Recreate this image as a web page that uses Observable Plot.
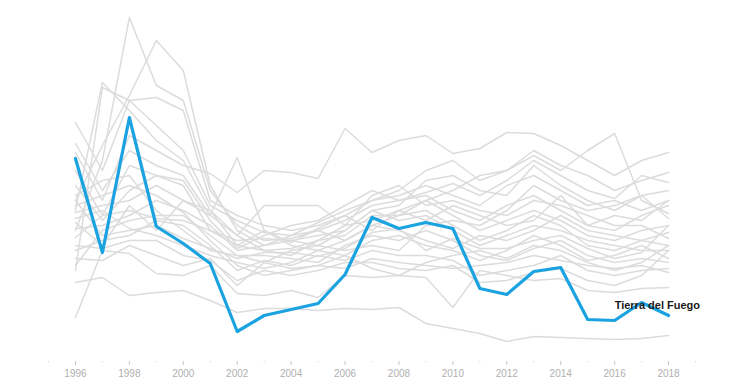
<!DOCTYPE html>
<html>
<head>
<meta charset="utf-8">
<script src="https://cdn.jsdelivr.net/npm/d3@7"></script>
<script src="https://cdn.jsdelivr.net/npm/@observablehq/plot@0.6"></script>
<style>
  html, body { margin: 0; padding: 0; background: #fff; }
  #chart { width: 730px; height: 392px; }
</style>
</head>
<body>
<div id="chart"></div>
<script>
const years = [1996,1997,1998,1999,2000,2001,2002,2003,2004,2005,2006,2007,2008,2009,2010,2011,2012,2013,2014,2015,2016,2017,2018];
const evenYears = [1996,1998,2000,2002,2004,2006,2008,2010,2012,2014,2016,2018];
const oddYears = [1995,1997,1999,2001,2003,2005,2007,2009,2011,2013,2015,2017,2019];

const highlightName = "Tierra del Fuego";
const tierraDelFuego = [20.2,10.8,24.3,13.4,11.7,9.7,2.9,4.5,5.1,5.7,8.6,14.3,13.2,13.8,13.2,7.2,6.6,8.9,9.3,4.1,4.0,5.8,4.5];

const provinceNames = ["Buenos Aires","CABA","Catamarca","Chaco","Chubut","Córdoba","Corrientes","Entre Ríos","Formosa","Jujuy","La Pampa","La Rioja","Mendoza","Misiones","Neuquén","Río Negro","Salta","San Juan","San Luis","Santa Cruz","Santa Fe","Santiago del Estero","Tucumán"];
const provinceValues = [
  [13.0,20.0,34.3,27.5,26.0,17.0,13.5,12.0,12.2,13.0,14.0,15.5,16.0,16.5,15.0,14.0,15.5,16.5,15.0,13.5,13.0,14.5,15.5],
  [16.0,21.5,26.5,32.0,29.0,17.5,13.0,11.5,12.0,12.5,13.0,15.0,15.5,18.0,18.5,17.0,16.5,19.5,17.5,16.0,15.0,16.5,17.0],
  [15.0,27.8,25.0,22.0,20.0,15.0,12.5,11.0,11.2,12.0,12.5,14.5,14.5,16.0,14.5,13.0,14.0,15.0,14.0,12.5,12.0,13.0,13.5],
  [9.0,27.3,26.0,26.3,25.0,16.0,14.5,13.5,13.0,13.5,14.5,16.0,16.5,17.5,16.5,15.5,17.5,18.5,17.0,15.5,16.0,15.0,16.0],
  [23.8,19.0,26.0,23.5,21.0,15.5,14.0,12.8,12.5,13.8,15.0,16.0,17.0,19.0,20.0,18.0,19.0,21.0,19.5,18.5,17.0,18.0,18.8],
  [21.7,17.0,21.0,19.5,18.5,14.5,20.3,13.0,11.5,11.0,12.0,13.5,14.5,15.0,13.5,12.0,13.0,14.5,13.5,11.5,11.0,12.0,12.8],
  [20.8,16.0,22.5,21.0,19.5,18.7,16.8,19.0,18.8,18.2,23.2,20.8,22.0,22.5,20.7,21.2,22.8,22.7,21.5,20.0,18.5,20.0,20.8],
  [19.0,14.5,19.5,18.5,17.5,13.0,11.5,11.0,10.5,12.0,13.5,14.0,15.0,16.0,17.0,18.5,19.0,20.5,19.0,21.0,22.7,16.0,14.7],
  [7.8,8.3,6.5,6.8,7.0,6.0,4.8,5.2,5.2,5.0,5.2,5.1,5.3,3.7,3.2,2.7,1.9,2.4,2.3,2.2,2.1,2.2,2.5],
  [4.3,11.0,10.7,8.7,8.5,9.5,6.7,6.5,7.0,6.3,8.5,8.3,8.5,8.3,5.3,9.0,8.5,8.0,8.2,7.0,6.8,7.2,7.3],
  [11.0,12.0,12.5,14.0,13.5,11.5,9.0,10.0,9.5,10.5,10.0,11.0,10.5,10.5,10.0,8.5,9.0,9.5,10.5,9.0,8.5,9.0,9.2],
  [9.5,13.0,14.0,14.5,14.5,12.5,10.5,10.5,10.2,9.8,11.5,12.5,12.0,13.0,12.0,10.5,10.0,11.2,12.0,10.5,9.8,10.2,9.8],
  [12.3,14.5,15.0,14.2,14.0,13.0,12.0,12.2,12.0,11.5,13.0,15.0,14.0,14.5,13.0,11.5,12.5,13.5,13.0,12.0,11.5,11.0,11.0],
  [13.2,13.5,14.5,16.0,15.0,13.5,11.0,11.5,12.5,13.0,12.0,13.5,13.0,12.0,11.2,12.5,12.0,13.0,14.5,13.0,12.5,12.0,11.5],
  [14.8,15.5,16.0,17.5,16.0,14.5,12.5,15.5,15.5,15.5,13.5,16.5,17.5,15.5,16.0,15.0,14.5,16.0,15.5,14.5,13.5,13.5,12.2],
  [14.2,15.0,13.2,12.5,11.5,10.5,9.8,9.2,9.8,11.0,10.5,12.0,12.5,11.5,11.0,10.0,11.0,12.5,11.5,10.0,10.5,11.5,10.2],
  [15.5,16.5,17.5,16.5,14.8,12.0,9.5,8.5,9.0,9.5,9.2,10.2,9.8,9.5,9.2,9.5,9.8,10.5,10.0,9.5,9.2,9.5,8.8],
  [16.5,18.0,18.5,15.0,13.0,11.0,10.5,9.8,11.0,11.5,11.0,11.5,11.0,13.5,14.0,13.5,15.0,17.5,16.0,15.0,15.5,16.5,14.2],
  [11.5,11.2,12.0,12.0,10.5,10.0,8.0,9.0,8.5,9.0,9.8,9.8,9.2,9.0,9.5,7.8,8.0,8.8,9.2,8.0,7.5,8.5,11.0],
  [10.2,10.0,11.5,10.5,9.5,10.2,7.5,9.8,9.2,9.5,10.5,9.2,8.5,9.8,10.5,11.0,10.2,11.5,11.0,9.8,9.0,9.8,11.5],
  [17.5,14.0,17.0,18.5,18.0,14.0,11.2,12.5,13.5,14.0,15.5,17.0,16.0,16.8,17.7,16.5,18.0,20.0,18.5,17.0,16.2,18.5,17.8],
  [16.0,12.5,13.0,13.5,12.2,11.2,10.2,10.8,10.8,10.4,11.2,12.8,13.2,11.0,12.2,11.2,11.2,12.0,12.5,11.2,10.2,10.8,13.5],
  [13.8,11.5,15.5,13.0,16.0,15.0,11.5,13.0,11.8,13.2,14.5,13.0,15.0,14.0,15.5,14.5,13.5,14.0,16.5,13.5,14.5,14.0,16.0]
];

const rows = [];
provinceNames.forEach((name, i) => {
  years.forEach((yr, j) => rows.push({name, year: yr, value: provinceValues[i][j]}));
});
const highlightRows = years.map((yr, j) => ({name: highlightName, year: yr, value: tierraDelFuego[j]}));
const labelRow = [highlightRows[years.indexOf(2016)]];

const chart = Plot.plot({
  width: 730,
  height: 392,
  marginTop: 0,
  marginLeft: 48,
  marginRight: 35,
  marginBottom: 31,
  style: {fontFamily: "Liberation Sans, Arial, sans-serif", background: "#fff", color: "#b5b5b5"},
  x: {domain: [1995, 2019], axis: null},
  y: {domain: [0, 35], range: [360, 10], axis: null},
  marks: [
    Plot.axisX({ticks: evenYears, tickSize: 4, tickPadding: 4, tickFormat: d => String(d), fontSize: 10, stroke: "#c8c8c8", fill: "#b0b0b0", label: null}),
    Plot.axisX({ticks: oddYears, tickSize: 1.2, tickFormat: () => "", stroke: "#cfcfcf", label: null}),
    Plot.line(rows, {x: "year", y: "value", z: "name", stroke: "#dcdcdc", strokeWidth: 1.5, curve: "linear"}),
    Plot.line(highlightRows, {x: "year", y: "value", stroke: "#1aa3e0", strokeWidth: 3.2, curve: "linear"}),
    Plot.text(labelRow, {x: "year", y: "value", text: d => d.name, textAnchor: "start", dy: -15, fontSize: 11, fontWeight: 600, fill: "#1a1a1a"})
  ]
});
document.getElementById("chart").appendChild(chart);
</script>
</body>
</html>
